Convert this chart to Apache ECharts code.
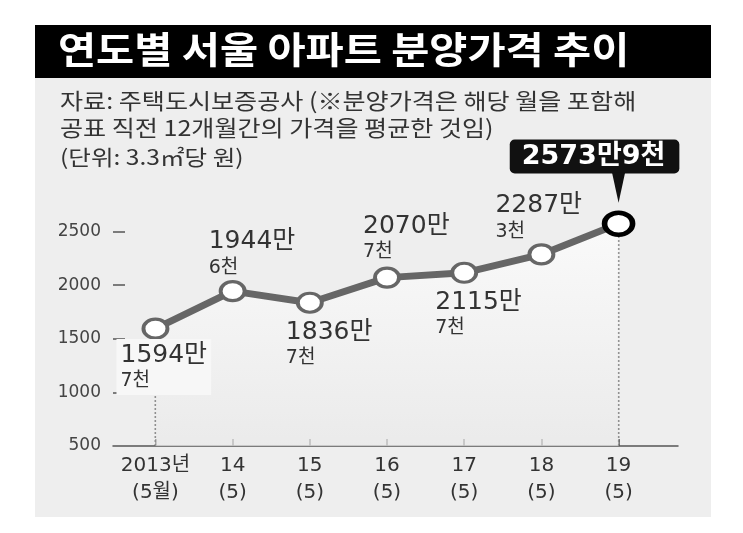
<!DOCTYPE html>
<html>
<head>
<meta charset="utf-8">
<script src="https://cdn.jsdelivr.net/npm/echarts@6.0.0/dist/echarts.min.js"></script>
<style>
  html, body { margin: 0; padding: 0; background: #fff; }
  #chart { width: 743px; height: 533px; }
</style>
</head>
<body>
<div id="chart"></div>
<script>
// 데이터 (단위: 3.3㎡당 만원)
var years = [2013, 2014, 2015, 2016, 2017, 2018, 2019];
var xTickLabels = ['2013년\n(5월)', '14\n(5)', '15\n(5)', '16\n(5)', '17\n(5)', '18\n(5)', '19\n(5)'];
var prices = [1594.7, 1944.6, 1836.7, 2070.7, 2115.7, 2287.3, 2573.9];
var yTicks = [500, 1000, 1500, 2000, 2500];

var titleText = '연도별 서울 아파트 분양가격 추이';
var noteLines = ['자료: 주택도시보증공사 (※분양가격은 해당 월을 포함해', '공표 직전 12개월간의 가격을 평균한 것임)'];
var unitText = '(단위: 3.3㎡당 원)';

// 라벨 위치 (점 중심 기준)
var labelOffsets = [[-37, 12], [-22, -62], [-22, 17], [-22, -64], [-27, 17], [-44, -61]];

var numFont = '"DejaVu Sans", "Noto Sans CJK KR", sans-serif';
var krFont = '"Noto Sans CJK KR", sans-serif';

function priceParts(v) {
  var man = Math.floor(v);
  var cheon = Math.round((v - man) * 10);
  return [man + '만', cheon + '천'];
}

var chart = echarts.init(document.getElementById('chart'));

var lastIdx = prices.length - 1;
var lineData = prices.map(function (v, i) {
  var parts = priceParts(v);
  if (i === lastIdx) {
    return {
      value: [years[i], v],
      symbolSize: [28, 22],
      itemStyle: { color: '#fff', borderColor: '#000', borderWidth: 5 },
      label: {
        show: true,
        position: [-92, -71],
        align: 'left',
        verticalAlign: 'top',
        formatter: parts[0] + parts[1],
        color: '#fff',
        fontFamily: numFont,
        fontWeight: 'bold',
        fontSize: 27,
        backgroundColor: '#111',
        borderRadius: 5,
        padding: [4, 14, 3, 12]
      }
    };
  }
  var off = labelOffsets[i];
  return {
    value: [years[i], v],
    label: {
      show: true,
      position: [off[0] + 12, off[1] + 9.5],
      align: 'left',
      verticalAlign: 'top',
      formatter: '{a|' + parts[0] + '}\n{b|' + parts[1] + '}',
      backgroundColor: i === 0 ? '#f7f7f7' : 'transparent',
      padding: i === 0 ? [2, 4] : 0
    }
  };
});

// 점선 (첫해, 마지막 해)
function dropLine(i) {
  return {
    type: 'line',
    z: 1,
    silent: true,
    symbol: 'none',
    data: [[years[i], yTicks[0]], [years[i], prices[i]]],
    lineStyle: { color: '#555', width: 1.5, type: [2, 2] }
  };
}

var option = {
  animation: false,
  backgroundColor: '#fff',
  graphic: [
    { type: 'rect', z: -10, shape: { x: 35, y: 25, width: 676, height: 492 }, style: { fill: '#eeeeee' } },
    { type: 'rect', z: -9, shape: { x: 35, y: 25, width: 676, height: 53 }, style: { fill: '#000' } },
    { type: 'text', z: 10, x: 58, y: 31, scaleX: 1.12, style: { text: titleText, fill: '#fff', font: 'bold 37px ' + krFont } },
    { type: 'text', z: 10, x: 60, y: 90, scaleX: 1.14, style: { text: noteLines[0], fill: '#333', font: '22px ' + krFont } },
    { type: 'text', z: 10, x: 60, y: 117, scaleX: 1.14, style: { text: noteLines[1], fill: '#333', font: '22px ' + krFont } },
    { type: 'text', z: 10, x: 60, y: 147, scaleX: 1.17, style: { text: unitText, fill: '#333', font: '21px ' + krFont } }
  ],
  grid: { left: 113, right: 65, top: 178, bottom: 87 },
  xAxis: {
    type: 'value',
    min: 2012.45,
    max: 2019.77,
    splitLine: { show: false },
    axisLine: { lineStyle: { color: '#555', width: 1.5 } },
    axisTick: { inside: true, length: 7, customValues: years, lineStyle: { color: '#555', width: 1.5 } },
    axisLabel: {
      customValues: years,
      margin: 6,
      color: '#333',
      fontFamily: numFont,
      fontSize: 20,
      lineHeight: 27,
      formatter: function (val) {
        var idx = years.indexOf(Math.round(val));
        return idx >= 0 ? xTickLabels[idx] : '';
      }
    }
  },
  yAxis: {
    type: 'value',
    min: 500,
    max: 3000,
    interval: 500,
    splitLine: { show: false },
    axisLine: { show: false },
    axisTick: { show: true, inside: true, length: 12, customValues: yTicks.slice(1), lineStyle: { color: '#555', width: 1.5 } },
    axisLabel: {
      customValues: yTicks,
      margin: 12,
      color: '#444',
      fontFamily: numFont,
      fontSize: 17,
      formatter: function (val) { return String(val); }
    }
  },
  series: [
    dropLine(0),
    dropLine(lastIdx),
    {
      type: 'line',
      z: 3,
      data: lineData,
      symbol: 'circle',
      symbolSize: [24, 19],
      lineStyle: { color: '#666', width: 7 },
      itemStyle: { color: '#fff', borderColor: '#666', borderWidth: 3.5 },
      areaStyle: {
        origin: 'start',
        color: new echarts.graphic.LinearGradient(0, 0, 0, 1, [
          { offset: 0, color: '#ffffff' },
          { offset: 1, color: '#e9e9e9' }
        ])
      },
      label: {
        rich: {
          a: { fontFamily: numFont, fontSize: 25, lineHeight: 28, color: '#333' },
          b: { fontFamily: numFont, fontSize: 19, lineHeight: 24, color: '#333' }
        }
      },
      markPoint: {
        silent: true,
        symbol: 'triangle',
        symbolRotate: 180,
        symbolSize: [13, 30],
        symbolOffset: [0, -36],
        itemStyle: { color: '#111' },
        label: { show: false },
        data: [{ coord: [years[lastIdx], prices[lastIdx]] }]
      },
      emphasis: { disabled: true }
    }
  ]
};

chart.setOption(option);
</script>
</body>
</html>
